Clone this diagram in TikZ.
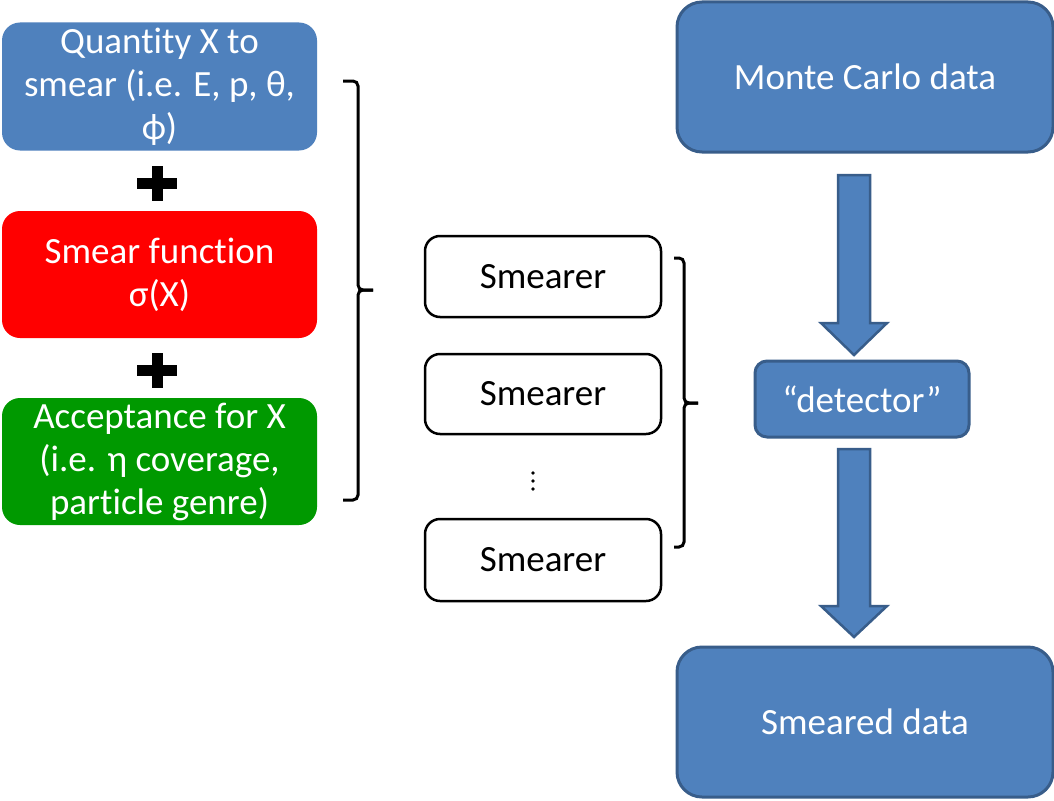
\documentclass[tikz,border=0pt]{standalone}
\usepackage{fontspec}
\setmainfont[Ligatures=NoCommon]{Carlito}
\definecolor{ppblue}{HTML}{4F81BD}
\definecolor{ppborder}{HTML}{385D8A}
\definecolor{ppred}{HTML}{FF0000}
\definecolor{ppgreen}{HTML}{009900}
\begin{document}
\begin{tikzpicture}[x=1pt,y=-1pt,
  txt/.style={font=\fontsize{37}{43}\selectfont, align=center, inner sep=0pt, outer sep=0pt},
  leftbox/.style={txt, rectangle, rounded corners=18pt, minimum width=315pt, minimum height=127pt, text=white},
  smbox/.style={txt, rectangle, rounded corners=15pt, draw=black, line width=2.5pt, fill=white, minimum width=236pt, minimum height=81pt},
  bluebox/.style={txt, rectangle, draw=ppborder, line width=3pt, fill=ppblue, text=white},
  brace/.style={draw=black, line width=3pt, rounded corners=5pt},
  blockarrow/.style={fill=ppblue, draw=ppborder, line width=2.5pt, line join=miter},
]
\useasboundingbox (0,0) rectangle (1054,800);
\fill[white] (0,0) rectangle (1054,800);

% left column
\node[leftbox, fill=ppblue, minimum height=128pt] (q) at (159.5,86.5) {Quantity X to\\smear (i.e. E, p, θ,\\ϕ)};
\node[leftbox, fill=ppred] (sf) at (159.5,274.5) {Smear function\\σ(X)};
\node[leftbox, fill=ppgreen] (acc) at (159.5,461.5) {Acceptance for X\\(i.e. η coverage,\\particle genre)};

% plus signs
\foreach \cy in {183,370}{
  \fill[black] (151.5,\cy-17.5) rectangle (162.5,\cy+17.5);
  \fill[black] (137,\cy-5.5) rectangle (177,\cy+5.5);
}

% left brace
\coordinate (lbt) at (343,81);
\coordinate (lbm) at (373,290);
\coordinate (lbb) at (343,500);
\draw[brace] (lbt) -- (358,81) -- (358,290) -- (lbm);
\draw[brace] (lbm) -- (358,290) -- (358,500) -- (lbb);

% smearers
\node[smbox] (s1) at (543,276.5) {Smearer};
\node[smbox, minimum height=80pt] (s2) at (543,394) {Smearer};
\node[smbox, minimum height=82pt] (s3) at (543,560) {Smearer};
\foreach \dy in {473,481,489}{ \fill[black] (533,\dy) circle (1.9pt); }

% right brace
\coordinate (rbt) at (674,258);
\coordinate (rbm) at (698,403);
\coordinate (rbb) at (674,547);
\draw[brace] (rbt) -- (684,258) -- (684,403) -- (rbm);
\draw[brace] (rbm) -- (684,403) -- (684,547) -- (rbb);

% right column
\node[bluebox, rounded corners=25pt, minimum width=376pt, minimum height=150pt] (mc) at (865,77) {Monte Carlo data};
\node[bluebox, rounded corners=12pt, minimum width=214pt, minimum height=76pt] (det) at (862,399) {“detector”};
\node[bluebox, rounded corners=25pt, minimum width=376pt, minimum height=150pt] (sd) at (865,722) {Smeared data};

% block arrows
\coordinate (a1top) at (854,175);
\coordinate (a1tip) at (854,355);
\draw[blockarrow] ([xshift=-16pt]a1top) -- ([xshift=16pt]a1top) -- (870,323) -- (887,323) -- (a1tip) -- (821,323) -- (838,323) -- cycle;
\coordinate (a2top) at (854,449);
\coordinate (a2tip) at (854,637);
\draw[blockarrow] ([xshift=-16pt]a2top) -- ([xshift=16pt]a2top) -- (870,606) -- (887,606) -- (a2tip) -- (821,606) -- (838,606) -- cycle;
\end{tikzpicture}
\end{document}
